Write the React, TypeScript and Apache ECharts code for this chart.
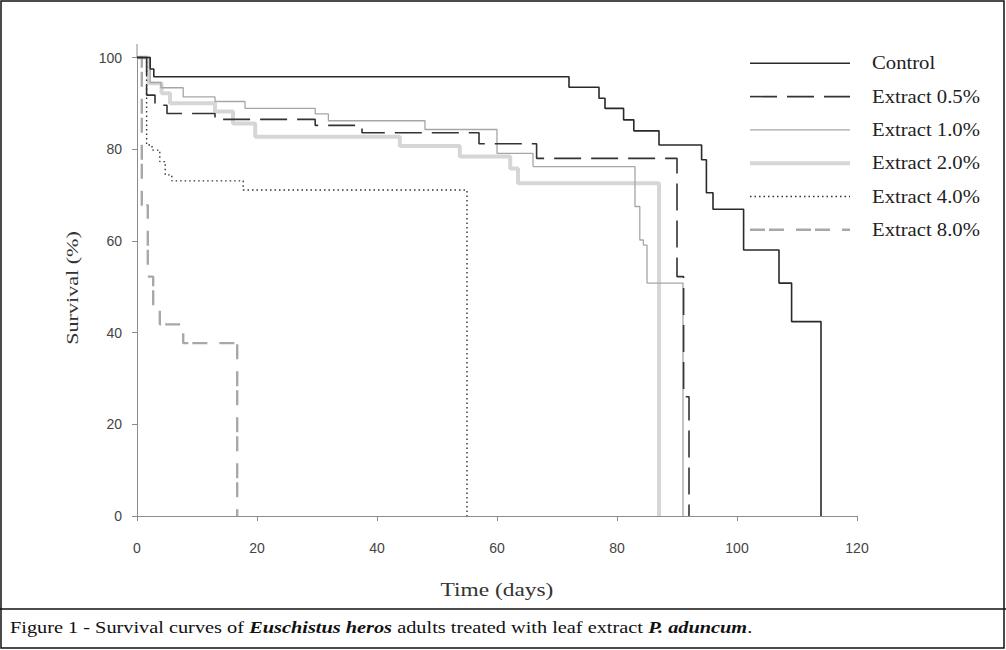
import React, { useEffect, useRef } from "react";
import * as echarts from "echarts";

// ---- data (time in days, survival in %) ----
const X_TICKS = [0, 20, 40, 60, 80, 100, 120];
const Y_TICKS = [0, 20, 40, 60, 80, 100];

const SERIES_NAMES = [
  "Control",
  "Extract 0.5%",
  "Extract 1.0%",
  "Extract 2.0%",
  "Extract 4.0%",
  "Extract 8.0%",
];

const T_CONTROL = [0, 2.2, 2.8, 72, 77, 78, 81.1, 82.8, 87, 94.1, 94.9, 96, 101.1, 107, 109.1, 114];
const S_CONTROL = [100, 97.5, 95.8, 93.5, 91.1, 88.9, 86.4, 84.0, 80.9, 77.7, 70.5, 66.9, 58.0, 50.8, 42.4, 0];

const T_E05 = [0, 1.6, 3, 5, 13, 29.7, 37.5, 57, 66.6, 90, 91.1, 92];
const S_E05 = [100, 91.8, 89.6, 87.8, 86.5, 85.2, 83.6, 81.2, 78.0, 52.2, 26.0, 0];

const T_E10 = [0, 2.2, 4, 7.7, 13, 18, 29.7, 31.9, 48, 60, 66, 83, 83.8, 84.4, 85, 91];
const S_E10 = [100, 94.5, 93.4, 91.4, 90.4, 88.9, 87.7, 86.2, 84.3, 79.1, 76.2, 67.5, 60.2, 59.1, 50.8, 0];

const T_E20 = [0, 1.9, 4.1, 5.5, 13, 16, 19.7, 43.8, 53.8, 62.2, 63.5, 87];
const S_E20 = [100, 94.4, 92.2, 90.0, 88.2, 85.6, 82.7, 80.7, 78.4, 75.8, 72.6, 0];

const T_E40 = [0, 1.6, 2.5, 3.8, 4.7, 5.8, 17.7, 55];
const S_E40 = [100, 80.9, 79.8, 77.3, 74.4, 73.1, 71.1, 0];

const T_E80 = [0, 0.8, 1.8, 2.7, 3.8, 7.7, 16.7];
const S_E80 = [100, 67.8, 52.2, 44.9, 41.8, 37.7, 0];

const X_NAME = "Time (days)";
const Y_NAME = "Survival (%)";

const zip = (t: number[], s: number[]) => t.map((v, i) => [v, s[i]]);

const SERIF = "'Liberation Serif', 'Times New Roman', serif";
const SANS = "'Liberation Sans', Arial, sans-serif";

export default function App() {
  const ref = useRef<HTMLDivElement>(null);

  useEffect(() => {
    if (!ref.current) return;
    const chart = echarts.init(ref.current, undefined, { renderer: "svg" });

    const styles = [
      { color: "#2a2a2a", width: 1.6, dash: null as any },
      { color: "#333333", width: 1.6, dash: [27, 10] },
      { color: "#a6a6a6", width: 1.3, dash: null as any },
      { color: "#d6d6d6", width: 4, dash: null as any },
      { color: "#333333", width: 1.4, dash: [1.5, 3] },
      { color: "#a8a8a8", width: 2.4, dash: [15, 4, 15, 12] },
    ];
    const datas = [
      zip(T_CONTROL, S_CONTROL),
      zip(T_E05, S_E05),
      zip(T_E10, S_E10),
      zip(T_E20, S_E20),
      zip(T_E40, S_E40),
      zip(T_E80, S_E80),
    ];
    // draw order: thick light first so dark lines on top
    const order = [3, 2, 5, 4, 1, 0];

    const series = order.map((i) => ({
      name: SERIES_NAMES[i],
      type: "line",
      step: "end",
      showSymbol: false,
      symbol: "none",
      clip: false,
      data: datas[i],
      lineStyle: {
        color: styles[i].color,
        width: styles[i].width,
        type: styles[i].dash ? styles[i].dash : "solid",
      },
      itemStyle: { color: styles[i].color },
      emphasis: { disabled: true },
    }));

    // manual legend (line samples + labels)
    const legendTop = 63.3;
    const legendStep = 33.3;
    const legendEls: any[] = [];
    SERIES_NAMES.forEach((name, i) => {
      const y = legendTop + i * legendStep;
      legendEls.push({
        type: "line",
        silent: true,
        shape: { x1: 750, y1: y, x2: 850, y2: y },
        style: {
          stroke: styles[i].color,
          lineWidth: styles[i].width,
          lineDash: styles[i].dash || undefined,
        },
      });
      legendEls.push({
        type: "text",
        silent: true,
        x: 872,
        y: y,
        scaleX: 1.15,
        style: {
          text: name,
          fontFamily: SERIF,
          fontSize: 18,
          fill: "#222",
          align: "left",
          verticalAlign: "middle",
        },
      });
    });

    chart.setOption({
      animation: false,
      backgroundColor: "#ffffff",
      grid: { left: 137, top: 57.5, width: 720, height: 458.5 },
      xAxis: {
        type: "value",
        min: 0,
        max: 120,
        interval: 20,
        axisLine: { lineStyle: { color: "#8c8c8c", width: 1 } },
        axisTick: { show: true, inside: false, length: 5, lineStyle: { color: "#8c8c8c" } },
        axisLabel: {
          margin: 25,
          fontFamily: SANS,
          fontSize: 14,
          color: "#444",
          formatter: (v: number) => (X_TICKS.includes(v) ? String(v) : ""),
        },
        splitLine: { show: false },
      },
      yAxis: {
        type: "value",
        min: 0,
        max: 100,
        interval: 20,
        axisLine: { show: true, lineStyle: { color: "#8c8c8c", width: 1 } },
        axisTick: { show: true, inside: false, length: 5, lineStyle: { color: "#8c8c8c" } },
        axisLabel: {
          margin: 15,
          fontFamily: SANS,
          fontSize: 14,
          color: "#444",
          formatter: (v: number) => (Y_TICKS.includes(v) ? String(v) : ""),
        },
        splitLine: { show: false },
      },
      series,
      graphic: [
        {
          type: "line",
          shape: { x1: 137, y1: 44, x2: 137, y2: 58 },
          style: { stroke: "#8c8c8c", lineWidth: 1 },
          silent: true,
        },
        ...legendEls,
        {
          type: "text",
          silent: true,
          x: 497,
          y: 590,
          scaleX: 1.3,
          style: {
            text: X_NAME,
            fontFamily: SERIF,
            fontSize: 18,
            fill: "#333",
            align: "center",
            verticalAlign: "middle",
          },
        },
        {
          type: "text",
          silent: true,
          x: 72,
          y: 288,
          rotation: Math.PI / 2,
          scaleX: 1.3,
          style: {
            text: Y_NAME,
            fontFamily: SERIF,
            fontSize: 17,
            fill: "#333",
            align: "center",
            verticalAlign: "middle",
          },
        },
        {
          type: "rect",
          shape: { x: 1, y: 1, width: 1003, height: 647 },
          style: { fill: "none", stroke: "#111", lineWidth: 1.5 },
          silent: true,
        },
        {
          type: "line",
          shape: { x1: 0, y1: 609, x2: 1006, y2: 609 },
          style: { stroke: "#111", lineWidth: 1.5 },
          silent: true,
        },
        {
          type: "text",
          x: 10,
          y: 628,
          scaleX: 1.27,
          silent: true,
          style: {
            text:
              "Figure 1 - Survival curves of {bi|Euschistus heros} adults treated with leaf extract {bi|P. aduncum}.",
            fontFamily: SERIF,
            fontSize: 16,
            fill: "#111",
            verticalAlign: "middle",
            rich: {
              bi: {
                fontFamily: SERIF,
                fontSize: 16,
                fontWeight: "bold",
                fontStyle: "italic",
                fill: "#111",
              },
            },
          },
        },
      ],
    });

    return () => chart.dispose();
  }, []);

  return (
    <div
      ref={ref}
      style={{ position: "absolute", left: 0, top: 0, width: 1006, height: 650 }}
    />
  );
}
